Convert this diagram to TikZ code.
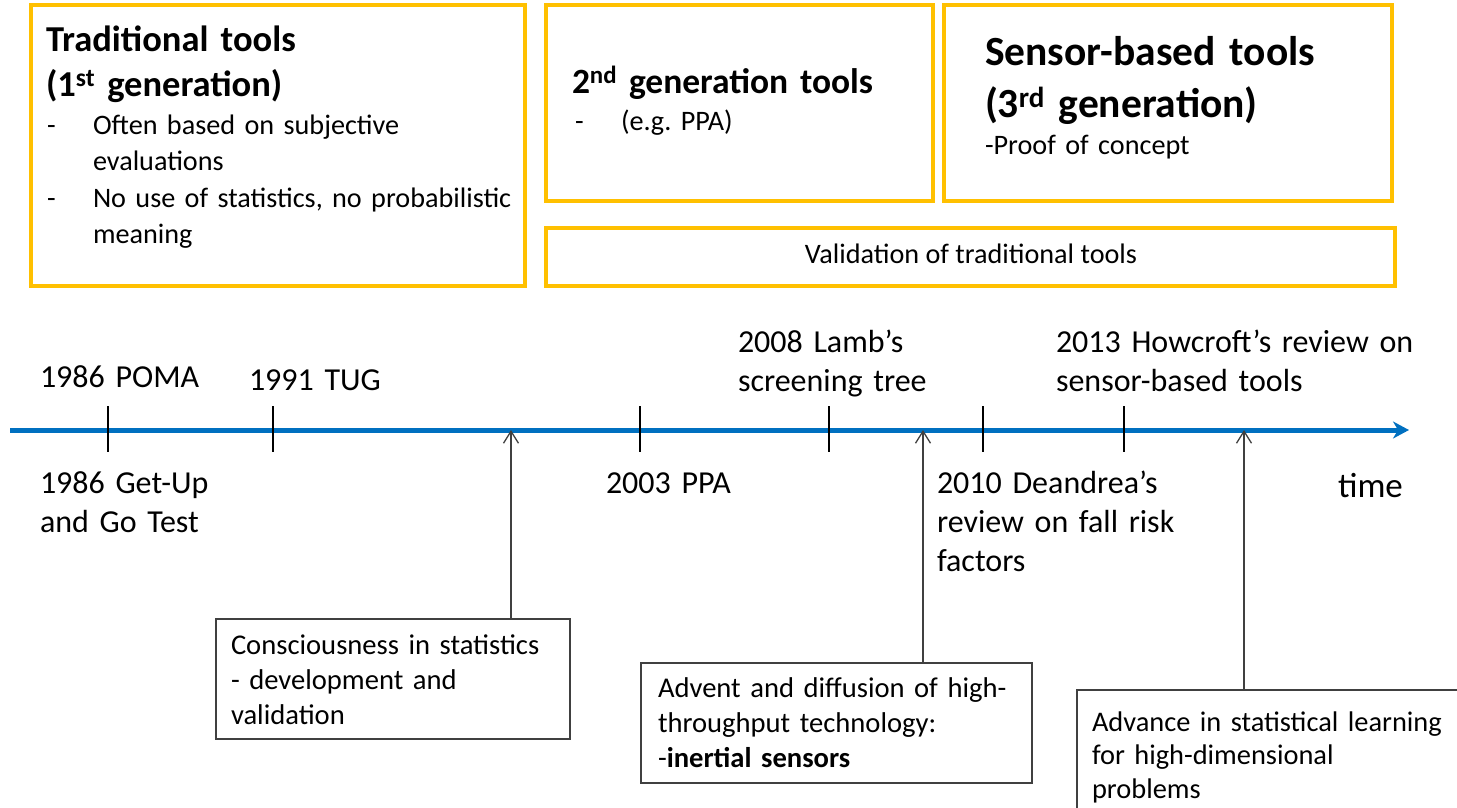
\documentclass[tikz,border=0pt]{standalone}
\usepackage{fontspec}
\setmainfont{Carlito}
\usetikzlibrary{arrows.meta}
\definecolor{gold}{HTML}{FFC000}
\definecolor{timeblue}{HTML}{0070C0}
\definecolor{edgegray}{HTML}{404040}
\frenchspacing

\begin{document}
\begin{tikzpicture}[x=1pt,y=-1pt,
  genbox/.style={draw=gold, line width=3.5pt, anchor=north west, inner sep=0pt, outer sep=0pt},
  notebox/.style={draw=edgegray, line width=1.4pt, anchor=north west, inner sep=0pt, outer sep=0pt, fill=white},
  txt/.style={anchor=base west, inner sep=0pt, outer sep=0pt, text width=#1, align=left},
  txt/.default=480pt,
  title/.style 2 args={font=\fontsize{#1}{#2}\selectfont\bfseries},
  body/.style={font=\fontsize{28.2}{36.5}\selectfont},
  tlabel/.style={font=\fontsize{32}{39}\selectfont},
  notetext/.style={font=\fontsize{28.6}{35}\selectfont},
  tick/.style={black, line width=1.2pt},
  uparrow/.style={edgegray, line width=1.3pt, -{Straight Barb[length=12pt,width=15pt,line width=1.3pt]}},
]
\useasboundingbox (0,0) rectangle (1457,807);
\clip (0,0) rectangle (1457,807);

% ---------- generation boxes ----------
\node[genbox, minimum width=494pt, minimum height=281pt] (gen1) at (31,5) {};
\node[genbox, minimum width=387pt, minimum height=196pt] (gen2) at (546,5) {};
\node[genbox, minimum width=448pt, minimum height=196pt] (gen3) at (944,5) {};
\node[genbox, minimum width=849pt, minimum height=58pt] (valid) at (546,228) {};

% first generation
\node[txt, title={36.5}{45}] (gen1title) at (46,51) {Traditional tools\\(1\textsuperscript{st} generation)};
\node[txt=30pt, body] (gen1dashA) at (47,134) {-};
\node[txt=30pt, body] (gen1dashB) at (47,207) {-};
\node[txt=440pt, body] (gen1list) at (93,134) {Often based on subjective\\evaluations\\No use of statistics, no probabilistic\\meaning};

% second generation
\node[txt, title={35.5}{43}] (gen2title) at (572,93) {2\textsuperscript{nd} generation tools};
\node[txt=30pt, body] (gen2dash) at (575,130) {-};
\node[txt=300pt, body] (gen2list) at (621,130) {(e.g. PPA)};

% third generation
\node[txt, title={41.5}{52}] (gen3title) at (985,65) {Sensor-based tools\\(3\textsuperscript{rd} generation)};
\node[txt=400pt, body] (gen3list) at (985,154) {-Proof of concept};

% validation band
\node[anchor=base, inner sep=0pt, body] (validtext) at (971,263) {Validation of traditional tools};

% ---------- time axis ----------
\coordinate (axisstart) at (10,430);
\coordinate (axisend) at (1409,430);
\draw[timeblue, line width=5pt, -{Stealth[length=16pt,width=17pt,inset=5pt]}] (axisstart) -- (axisend);

\foreach \tx/\tn in {108/poma, 273/tug, 640/ppa, 829/lamb, 983/deandrea, 1124/howcroft}
  \draw[tick] (\tx,406) coordinate (tick-\tn) -- (\tx,452);

\node[txt, tlabel] (lpoma) at (40,387) {1986 POMA};
\node[txt, tlabel] (ltug) at (249,390) {1991 TUG};
\node[txt, tlabel] (llamb) at (738,352) {2008 Lamb’s\\screening tree};
\node[txt, tlabel] (lhow) at (1056,352) {2013 Howcroft’s review on\\sensor-based tools};
\node[txt, tlabel] (lgetup) at (40,493) {1986 Get-Up\\and Go Test};
\node[txt, tlabel] (lppa) at (606,493) {2003 PPA};
\node[txt, tlabel] (ldean) at (937,493) {2010 Deandrea’s\\review on fall risk\\factors};
\node[txt, font=\fontsize{35}{42}\selectfont] (ltime) at (1338,497) {time};

% ---------- notes below the axis ----------
\node[notebox, minimum width=354pt, minimum height=120pt] (cons) at (216,619) {};
\node[notebox, minimum width=391pt, minimum height=120pt] (advent) at (641,663) {};
\node[notebox, minimum width=440pt, minimum height=160pt] (advance) at (1077,690) {};

\node[txt=340pt, notetext] (constext) at (231,654) {Consciousness in statistics\\- development and\\validation};
\node[txt=370pt, notetext] (adventtext) at (658,697) {Advent and diffusion of high-\\throughput technology:\\-\textbf{inertial sensors}};
\node[txt=360pt, font=\fontsize{28.4}{33.5}\selectfont] (advancetext) at (1092,731) {Advance in statistical learning\\for high-dimensional\\problems};

\coordinate (hitcons) at (511,430);
\coordinate (hitadvent) at (923,430);
\coordinate (hitadvance) at (1244,430);
\draw[uparrow] (cons.north -| hitcons) -- (hitcons);
\draw[uparrow] (advent.north -| hitadvent) -- (hitadvent);
\draw[uparrow] (advance.north -| hitadvance) -- (hitadvance);
\end{tikzpicture}
\end{document}
